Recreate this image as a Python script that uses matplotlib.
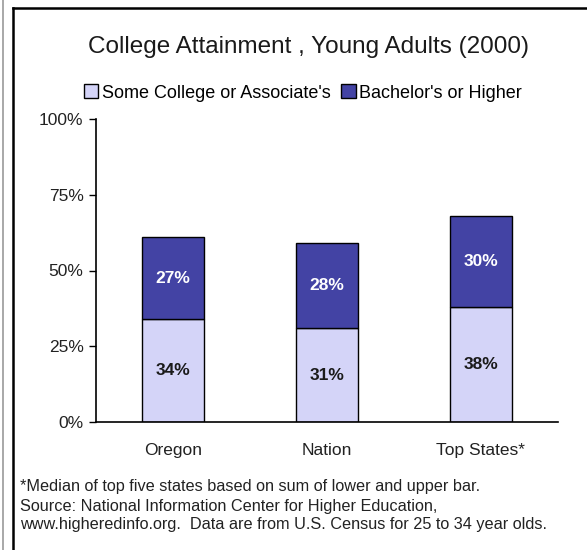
import matplotlib
matplotlib.use("Agg")
import matplotlib.pyplot as plt
import matplotlib.patches as mpatches
from matplotlib.lines import Line2D

plt.rcParams["font.family"] = ["Liberation Sans", "DejaVu Sans"]

# data
categories = ["Oregon", "Nation", "Top States*"]
some_college = [34, 31, 38]
bachelors = [27, 28, 30]
y_ticks = [0, 25, 50, 75, 100]
y_tick_labels = ["0%", "25%", "50%", "75%", "100%"]

LIGHT = "#D4D4F8"
DARK = "#4343A4"

W, H = 587, 550
fig = plt.figure(figsize=(W / 100, H / 100), dpi=100, facecolor="white")

# frame lines around the chart
fig.add_artist(Line2D([3 / W, 3 / W], [0, 1], color="#9A9A9A", lw=1.2))
fig.add_artist(Line2D([12.5 / W, 12.5 / W], [0, 1 - 8 / H], color="black", lw=1.8))
fig.add_artist(Line2D([12.5 / W, 1], [1 - 8 / H, 1 - 8 / H], color="black", lw=1.8))

ax = fig.add_axes([96 / W, 1 - 422 / H, (558 - 96) / W, (422 - 119) / H])

x = list(range(len(categories)))
bar_w = 0.4
ax.bar(x, some_college, width=bar_w, color=LIGHT, edgecolor="black", linewidth=1)
ax.bar(x, bachelors, width=bar_w, bottom=some_college, color=DARK, edgecolor="black", linewidth=1)

for xi, lo, hi in zip(x, some_college, bachelors):
    ax.text(xi, lo / 2, f"{lo}%", ha="center", va="center", fontsize=12.5,
            fontweight="bold", color="#1A1A1A")
    ax.text(xi, lo + hi / 2, f"{hi}%", ha="center", va="center", fontsize=12.5,
            fontweight="bold", color="white")

ax.set_xlim(-0.5, 2.5)
ax.set_ylim(0, 100)
ax.set_yticks(y_ticks)
ax.set_yticklabels(y_tick_labels, fontsize=12.5, color="#222222")
ax.set_xticks(x)
ax.set_xticklabels(categories, fontsize=12.5, color="#222222")
ax.tick_params(axis="x", length=0, pad=15)
ax.tick_params(axis="y", length=5, width=1, direction="out", pad=4)
for s in ["top", "right"]:
    ax.spines[s].set_visible(False)
for s in ["left", "bottom"]:
    ax.spines[s].set_linewidth(1.2)

fig.text(308 / W, 1 - 47 / H, "College Attainment , Young Adults (2000)",
         ha="center", va="center", fontsize=17.5, color="#1A1A1A")

handles = [mpatches.Patch(facecolor=LIGHT, edgecolor="black", label="Some College or Associate's"),
           mpatches.Patch(facecolor=DARK, edgecolor="black", label="Bachelor's or Higher")]
fig.legend(handles=handles, loc="center", bbox_to_anchor=(303 / W, 1 - 93 / H), ncol=2,
           frameon=False, fontsize=13, handlelength=0.8, handleheight=0.8,
           handletextpad=0.2, columnspacing=0.6)

notes = ["*Median of top five states based on sum of lower and upper bar.",
         "Source: National Information Center for Higher Education,",
         "www.higheredinfo.org.  Data are from U.S. Census for 25 to 34 year olds."]
for i, line in enumerate(notes):
    fig.text(20 / W, 1 - (487 + i * 19) / H, line, ha="left", va="center",
             fontsize=11.7, color="#222222")

fig.savefig("out.png", dpi=100, facecolor="white")
